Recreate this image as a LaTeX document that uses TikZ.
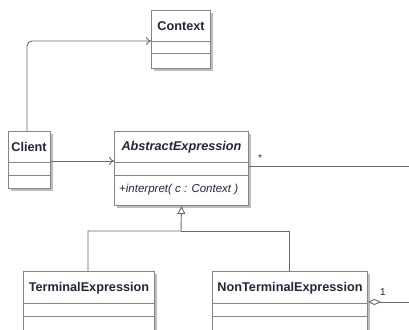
\documentclass[tikz,border=0pt]{standalone}
\usepackage{fontspec}
\setmainfont{Liberation Sans}
\usetikzlibrary{arrows.meta,shadows}
\definecolor{boxline}{HTML}{858585}
\definecolor{conn}{HTML}{6A6A6A}
\definecolor{txt}{HTML}{25253A}
\definecolor{shd}{HTML}{BDBDBD}
\tikzset{
  classbox/.style={draw=boxline, fill=white, line width=1pt, inner sep=0pt, anchor=north west,
    drop shadow={shadow xshift=2.2pt, shadow yshift=-2.2pt, fill=shd, opacity=1}},
  divider/.style={draw=boxline, line width=1pt},
  cname/.style={text=txt, font=\fontsize{12.7}{14}\selectfont\bfseries, inner sep=0pt},
  cmeth/.style={text=txt, font=\fontsize{11.5}{13}\selectfont\itshape, inner sep=0pt, anchor=west},
  conn/.style={draw=conn, line width=0.9pt},
  lbl/.style={text=txt, font=\fontsize{10}{12}\selectfont, inner sep=0pt}
}
\begin{document}
\begin{tikzpicture}[x=1pt,y=-1pt]
\useasboundingbox (0,0) rectangle (409,329);
\clip (0,0) rectangle (409,329);
% Context
\node[classbox, minimum width=59pt, minimum height=58pt] (ctx) at (151,10) {};
\draw[divider] (151,42) -- (210,42);
\draw[divider] (151,54) -- (210,54);
\node[cname] (ctxn) at (181,26) {Context};
% Client
\node[classbox, minimum width=42pt, minimum height=57pt] (cli) at (8,131) {};
\draw[divider] (8,162) -- (50,162);
\draw[divider] (8,175) -- (50,175);
\node[cname] (clin) at (29,147) {Client};
% AbstractExpression
\node[classbox, minimum width=134pt, minimum height=74pt] (ae) at (114,131) {};
\draw[divider] (114,162) -- (248,162);
\draw[divider] (114,175) -- (248,175);
\node[cname, font=\fontsize{12.7}{14}\selectfont\bfseries\itshape] (aen) at (181.5,147) {AbstractExpression};
\node[cmeth] (aem) at (119,190) {+interpret( c : Context )};
% TerminalExpression
\node[classbox, minimum width=131pt, minimum height=70pt] (te) at (23,271) {};
\draw[divider] (23,303) -- (154,303);
\draw[divider] (23,316) -- (154,316);
\node[cname] (ten) at (89,288) {TerminalExpression};
% NonTerminalExpression
\node[classbox, minimum width=155pt, minimum height=70pt] (nte) at (212,271) {};
\draw[divider] (212,303) -- (367,303);
\draw[divider] (212,316) -- (367,316);
\node[cname] (nten) at (290,288) {NonTerminalExpression};
% connectors
\coordinate (c1) at (27,41);
\draw[conn, rounded corners=5pt, -{To[length=5pt,width=8pt]}] (cli.north -| c1) -- (c1) -- (ctx.west |- c1);
\draw[conn, -{To[length=5pt,width=8pt]}] (cli.east |- 0,161) -- (ae.west |- 0,161);
\coordinate (r1) at (409,166);
\draw[conn] (ae.east |- r1) -- (r1);
\node[lbl] (star) at (260,158) {*};
\coordinate (gj) at (181,231);
\draw[conn, -{Triangle[open, length=8pt, width=8pt, fill=white]}] (te.north -| 88,0) |- (gj) -- (ae.south);
\draw[conn] (nte.north -| 289,0) |- (gj);
\coordinate (r2) at (409,302);
\draw[conn, {Diamond[open, length=13pt, width=6pt, fill=white]}-] (nte.east |- r2) -- (r2);
\node[lbl] (one) at (383,292) {1};
\end{tikzpicture}
\end{document}
